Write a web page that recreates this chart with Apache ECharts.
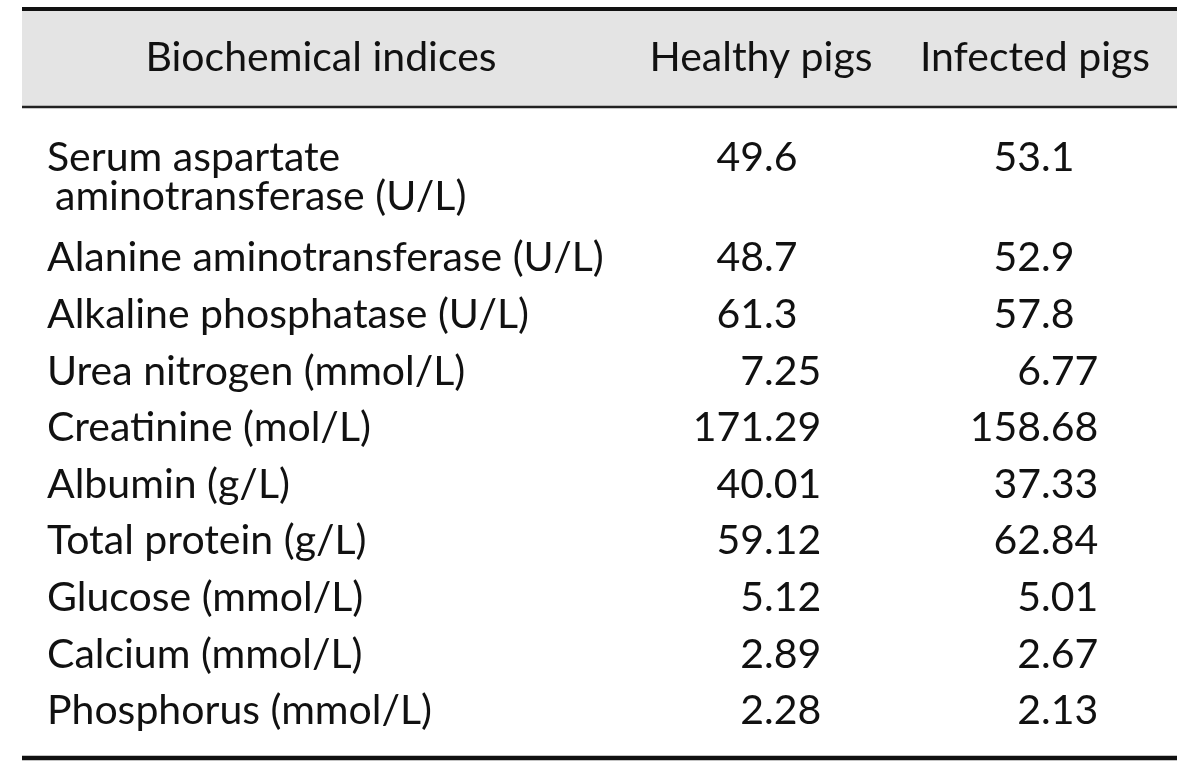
<!DOCTYPE html>
<html>
<head>
<meta charset="utf-8">
<script src="https://cdn.jsdelivr.net/npm/echarts@6/dist/echarts.min.js"></script>
<style>
html,body{margin:0;padding:0;background:#fff;}
#chart{width:1200px;height:770px;}
</style>
</head>
<body>
<div id="chart"></div>
<script>
// ---- data ----
const headers = ['Biochemical indices', 'Healthy pigs', 'Infected pigs'];
const indices = [
  'Serum aspartate\naminotransferase (U/L)',
  'Alanine aminotransferase (U/L)',
  'Alkaline phosphatase (U/L)',
  'Urea nitrogen (mmol/L)',
  'Creatinine (mol/L)',
  'Albumin (g/L)',
  'Total protein (g/L)',
  'Glucose (mmol/L)',
  'Calcium (mmol/L)',
  'Phosphorus (mmol/L)'
];
const healthy = ['49.6', '48.7', '61.3', '7.25', '171.29', '40.01', '59.12', '5.12', '2.89', '2.28'];
const infected = ['53.1', '52.9', '57.8', '6.77', '158.68', '37.33', '62.84', '5.01', '2.67', '2.13'];

// ---- layout ----
const FONT_FAMILY = 'Lato';
const FONT_SIZE = 41;
const LINE_H = 39;
const WRAP_GAP = 0.77;      // extra row units taken by a wrapped line
const COL_LABEL_X = 25;     // x-axis units (px from table left)
const COL_DEC_X = [742, 1019];
const INDENT = 8;
const TABLE_L = 22, TABLE_R = 1177;

// row positions from line counts
const rowPos = [];
let pos = 0;
indices.forEach(function (name) {
  rowPos.push(pos);
  pos += 1 + (name.split('\n').length - 1) * WRAP_GAP;
});

const seriesData = indices.map(function (name, i) { return [i, rowPos[i]]; });

const font = FONT_SIZE + 'px ' + FONT_FAMILY;

function numTexts(str, xDec, y) {
  const parts = str.split('.');
  const out = [{
    type: 'text',
    style: { text: parts[0], x: xDec, y: y, align: 'right', verticalAlign: 'middle', font: font, fill: '#111' }
  }];
  if (parts.length > 1) {
    out.push({
      type: 'text',
      style: { text: '.' + parts[1], x: xDec, y: y, align: 'left', verticalAlign: 'middle', font: font, fill: '#111' }
    });
  }
  return out;
}

const chart = echarts.init(document.getElementById('chart'), null, { renderer: 'canvas' });

chart.setOption({
  animation: false,
  backgroundColor: '#ffffff',
  grid: { left: TABLE_L, right: 1200 - TABLE_R, top: 107, bottom: 12 },
  xAxis: { type: 'value', min: 0, max: TABLE_R - TABLE_L, show: false },
  yAxis: { type: 'value', min: -0.9, max: 10.6, inverse: true, show: false },
  graphic: [
    { type: 'rect', shape: { x: TABLE_L, y: 9, width: TABLE_R - TABLE_L, height: 98 }, style: { fill: '#e4e4e4' }, z: 0 },
    { type: 'line', shape: { x1: TABLE_L, y1: 9, x2: TABLE_R, y2: 9 }, style: { stroke: '#111', lineWidth: 4 }, z: 2 },
    { type: 'line', shape: { x1: TABLE_L, y1: 107, x2: TABLE_R, y2: 107 }, style: { stroke: '#222', lineWidth: 2.5 }, z: 2 },
    { type: 'line', shape: { x1: TABLE_L, y1: 758, x2: TABLE_R, y2: 758 }, style: { stroke: '#111', lineWidth: 4.5 }, z: 2 },
    { type: 'text', style: { text: headers[0], x: 321, y: 58, align: 'center', verticalAlign: 'middle', font: font, fill: '#111' }, z: 3 },
    { type: 'text', style: { text: headers[1], x: 761, y: 58, align: 'center', verticalAlign: 'middle', font: font, fill: '#111' }, z: 3 },
    { type: 'text', style: { text: headers[2], x: 1035, y: 58, align: 'center', verticalAlign: 'middle', font: font, fill: '#111' }, z: 3 }
  ],
  series: [{
    type: 'custom',
    coordinateSystem: 'cartesian2d',
    data: seriesData,
    renderItem: function (params, api) {
      const i = api.value(0);
      const p = api.coord([COL_LABEL_X, api.value(1)]);
      const y = p[1];
      const children = [];
      indices[i].split('\n').forEach(function (line, k) {
        children.push({
          type: 'text',
          style: { text: line, x: p[0] + (k > 0 ? INDENT : 0), y: y + k * LINE_H, align: 'left', verticalAlign: 'middle', font: font, fill: '#111' }
        });
      });
      const x1 = api.coord([COL_DEC_X[0], 0])[0];
      const x2 = api.coord([COL_DEC_X[1], 0])[0];
      numTexts(healthy[i], x1, y).forEach(function (t) { children.push(t); });
      numTexts(infected[i], x2, y).forEach(function (t) { children.push(t); });
      return { type: 'group', children: children };
    }
  }]
});
</script>
</body>
</html>
